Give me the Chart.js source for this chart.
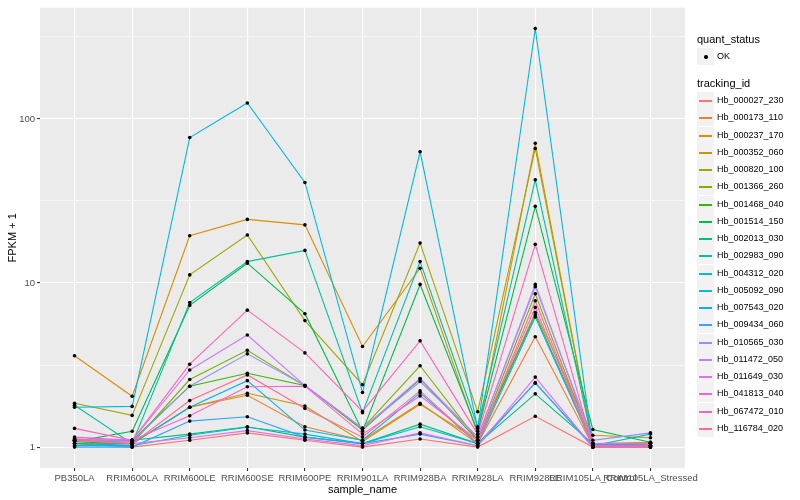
<!DOCTYPE html>
<html>
<head>
<meta charset="utf-8">
<script src="https://cdn.jsdelivr.net/npm/chart.js@4.4.1/dist/chart.umd.min.js"></script>
<style>
  body { margin: 0; background: #fff; font-family: "Liberation Sans", Arial, sans-serif; }
  #wrap { position: relative; width: 800px; height: 500px; }
  #legend { position: absolute; left: 697px; top: 0; width: 103px; height: 500px; }
  .ttl { position: absolute; left: 0; font-size: 11px; line-height: 13px; color: #000; white-space: nowrap; }
  .row { position: absolute; left: 0; width: 100px; height: 17px; }
  .key { position: absolute; left: 0; top: 0; width: 17px; height: 17px; background: #f2f2f2; }
  .key i { position: absolute; left: 2px; right: 2px; top: 8px; height: 1.5px; }
  .key b { position: absolute; left: 7px; top: 7px; width: 3.5px; height: 3.5px; border-radius: 50%; background: #000; }
  .lab { position: absolute; left: 20px; top: 0; line-height: 17px; font-size: 9px; color: #000; white-space: nowrap; }
</style>
</head>
<body>
<div id="wrap">
  <canvas id="chart" width="800" height="500"></canvas>
  <div id="legend"></div>
</div>
<script>
const categories = ['PB350LA', 'RRIM600LA', 'RRIM600LE', 'RRIM600SE', 'RRIM600PE', 'RRIM901LA',
  'RRIM928BA', 'RRIM928LA', 'RRIM928LE', 'RRIM105LA_Control', 'RRIM105LA_Stressed']

const trackingIds = ['Hb_000027_230', 'Hb_000173_110', 'Hb_000237_170', 'Hb_000352_060', 'Hb_000820_100',
  'Hb_001366_260', 'Hb_001468_040', 'Hb_001514_150', 'Hb_002013_030', 'Hb_002983_090',
  'Hb_004312_020', 'Hb_005092_090', 'Hb_007543_020', 'Hb_009434_060', 'Hb_010565_030',
  'Hb_011472_050', 'Hb_011649_030', 'Hb_041813_040', 'Hb_067472_010', 'Hb_116784_020']

// FPKM + 1, one value per sample
const hb_000027_230 = [1.05, 1.0, 1.1, 1.22, 1.1, 1.0, 1.12, 1.0, 1.54, 1.0, 1.0]
const hb_000173_110 = [1.1, 1.05, 1.75, 2.07, 1.33, 1.1, 1.85, 1.05, 4.7, 1.02, 1.05]
const hb_000237_170 = [3.6, 2.04, 19.4, 24.4, 22.6, 4.1, 12.3, 1.2, 71, 1.05, 1.07]
const hb_000352_060 = [1.08, 1.05, 1.75, 2.13, 1.78, 1.08, 1.82, 1.1, 6.6, 1.18, 1.14]
const hb_000820_100 = [1.85, 1.56, 11.2, 19.6, 5.9, 2.4, 17.5, 1.64, 66, 1.05, 1.05]
const hb_001366_260 = [1.05, 1.05, 2.58, 3.89, 2.37, 1.3, 3.13, 1.1, 8.6, 1.02, 1.02]
const hb_001468_040 = [1.1, 1.1, 2.35, 2.82, 2.37, 1.27, 2.6, 1.1, 6.4, 1.05, 1.02]
const hb_001514_150 = [1.08, 1.25, 7.3, 13.2, 6.5, 1.25, 9.8, 1.25, 29.3, 1.28, 1.07]
const hb_002013_030 = [1.05, 1.1, 1.2, 1.33, 1.15, 1.05, 1.38, 1.05, 2.11, 1.05, 1.02]
const hb_002983_090 = [1.8, 1.05, 7.6, 13.5, 15.8, 1.62, 13.5, 1.33, 42.5, 1.05, 1.02]
const hb_004312_020 = [1.02, 1.02, 1.18, 1.32, 1.2, 1.05, 1.33, 1.05, 2.45, 1.02, 1.2]
const hb_005092_090 = [1.75, 1.77, 77, 125, 41, 2.15, 63, 1.3, 355, 1.0, 1.0]
const hb_007543_020 = [1.02, 1.05, 1.75, 2.54, 1.27, 1.1, 2.14, 1.05, 6.2, 1.02, 1.05]
const hb_009434_060 = [1.0, 1.0, 1.44, 1.53, 1.15, 1.05, 1.2, 1.02, 2.47, 1.0, 1.02]
const hb_010565_030 = [1.12, 1.08, 2.35, 3.7, 2.37, 1.3, 2.51, 1.15, 9.5, 1.1, 1.22]
const hb_011472_050 = [1.12, 1.1, 2.95, 4.82, 2.37, 1.3, 2.62, 1.15, 9.8, 1.05, 1.05]
const hb_011649_030 = [1.1, 1.05, 1.14, 1.26, 1.12, 1.02, 1.22, 1.02, 2.67, 1.0, 1.0]
const hb_041813_040 = [1.15, 1.1, 1.55, 2.33, 2.35, 1.2, 2.05, 1.1, 7.1, 1.02, 1.02]
const hb_067472_010 = [1.3, 1.1, 3.2, 6.83, 3.75, 1.65, 4.44, 1.2, 17.2, 1.02, 1.02]
const hb_116784_020 = [1.12, 1.05, 1.92, 2.75, 1.72, 1.15, 2.2, 1.05, 7.8, 1.0, 1.0]

const seriesValues = [hb_000027_230, hb_000173_110, hb_000237_170, hb_000352_060, hb_000820_100,
  hb_001366_260, hb_001468_040, hb_001514_150, hb_002013_030, hb_002983_090,
  hb_004312_020, hb_005092_090, hb_007543_020, hb_009434_060, hb_010565_030,
  hb_011472_050, hb_011649_030, hb_041813_040, hb_067472_010, hb_116784_020]

const yTickValues = [1, 10, 100]
const yTickLabels = ['1', '10', '100']
const yMinorValues = [3.1623, 31.623, 316.23]
const yMin = 0.7456
const yMax = 476

// ggplot default hue palette
const colors = ['#F8766D', '#EA8331', '#D89000', '#C09B00', '#A3A500', '#7CAE00', '#39B600', '#00BB4E',
  '#00BF7D', '#00C1A3', '#00BFC4', '#00BAE0', '#00B0F6', '#35A2FF', '#9590FF', '#C77CFF',
  '#E76BF3', '#FA62DB', '#FF62BC', '#FF6C90']

let datasets = seriesValues.map((vals, i) => ({
  label: trackingIds[i],
  data: vals.map((v, j) => ({ x: j, y: v })),
  borderColor: colors[i],
  backgroundColor: colors[i],
  borderWidth: 1.1,
  pointRadius: 0,
  fill: false,
  tension: 0,
  order: 100 - i
}))

let allPoints = []
seriesValues.forEach(vals => vals.forEach((v, j) => allPoints.push({ x: j, y: v })))
datasets.push({
  label: 'OK',
  data: allPoints,
  showLine: false,
  pointRadius: 1.8,
  pointBackgroundColor: '#000',
  pointBorderWidth: 0,
  order: 0
})

const panelBg = {
  id: 'panelBg',
  beforeDraw(chart) {
    const a = chart.chartArea
    const ctx = chart.ctx
    ctx.save()
    ctx.fillStyle = '#EBEBEB'
    ctx.fillRect(a.left, a.top, a.right - a.left, a.bottom - a.top)
    ctx.restore()
  }
}

const isMajor = v => yTickValues.some(t => Math.abs(t - v) < 1e-6)

new Chart(document.getElementById('chart'), {
  type: 'line',
  data: { datasets },
  plugins: [panelBg],
  options: {
    responsive: false,
    animation: false,
    layout: { autoPadding: false, padding: { left: 0, right: 115, top: 5, bottom: 0 } },
    plugins: { legend: { display: false }, tooltip: { enabled: false } },
    scales: {
      x: {
        type: 'linear',
        min: -0.6,
        max: 10.6,
        afterBuildTicks: s => { s.ticks = categories.map((c, i) => ({ value: i })) },
        afterFit: s => { s.height = 32 },
        border: { display: false },
        grid: { color: '#FFFFFF', lineWidth: 1.1, tickLength: 3, tickColor: '#333333' },
        ticks: {
          autoSkip: false, maxRotation: 0, minRotation: 0, padding: 1.5,
          color: '#4D4D4D', font: { family: 'Liberation Sans', size: 9.5 },
          callback: v => categories[v]
        },
        title: {
          display: true, text: 'sample_name', color: '#000',
          font: { family: 'Liberation Sans', size: 11 }, padding: { top: 0, bottom: 3.5 }
        }
      },
      y: {
        type: 'logarithmic',
        min: yMin,
        max: yMax,
        bounds: 'data',
        afterBuildTicks: s => {
          s.min = yMin
          s.max = yMax
          s.ticks = yTickValues.concat(yMinorValues).sort((a, b) => a - b).map(v => ({ value: v }))
        },
        afterFit: s => { s.width = 40 },
        border: { display: false },
        grid: {
          color: '#FFFFFF',
          lineWidth: c => isMajor(c.tick.value) ? 1.1 : 0.55,
          tickLength: 3,
          tickColor: c => isMajor(c.tick.value) ? '#333333' : 'rgba(0,0,0,0)'
        },
        ticks: {
          padding: 2, color: '#4D4D4D', font: { family: 'Liberation Sans', size: 9.5 },
          callback: v => { const k = yTickValues.findIndex(t => Math.abs(t - v) < 1e-6); return k >= 0 ? yTickLabels[k] : '' }
        },
        title: {
          display: true, text: 'FPKM + 1', color: '#000',
          font: { family: 'Liberation Sans', size: 11 }, padding: { top: 6, bottom: 0 }
        }
      }
    }
  }
})

// legend in ggplot style
const legend = document.getElementById('legend')
let html = '<div class="ttl" style="top:33px">quant_status</div>'
html += '<div class="row" style="top:48px"><div class="key"><b></b></div><div class="lab">OK</div></div>'
html += '<div class="ttl" style="top:77px">tracking_id</div>'
trackingIds.forEach((id, i) => {
  const top = Math.round(92 + i * 17.25)
  html += `<div class="row" style="top:${top}px"><div class="key"><i style="background:${colors[i]}"></i></div><div class="lab">${id}</div></div>`
})
legend.innerHTML = html
</script>
</body>
</html>
